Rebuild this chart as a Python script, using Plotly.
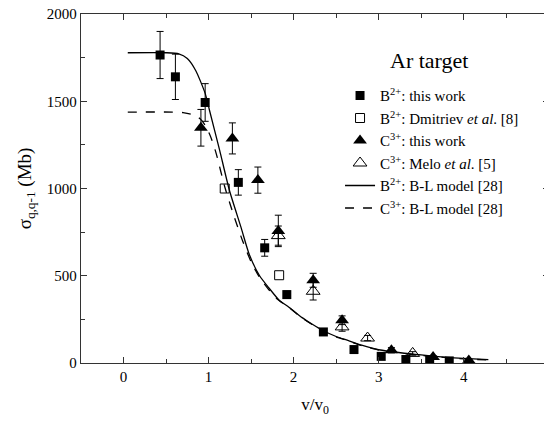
import plotly.graph_objects as go

# B2+ this work
b_x = [0.43, 0.61, 0.96, 1.35, 1.66, 1.92, 2.35, 2.71, 3.03, 3.32, 3.60, 3.83]
b_y = [1765, 1640, 1493, 1035, 660, 392, 178, 77, 38, 20, 15, 12]
b_err = [135, 130, 108, 73, 48, 20, 15, 10, 10, 8, 8, 6]

# B2+ Dmitriev et al. [8]
d_x = [1.19, 1.83]
d_y = [1000, 503]

# C3+ this work
c_x = [0.91, 1.28, 1.58, 1.82, 2.23, 2.57, 3.15, 3.64, 4.06]
c_y = [1348, 1287, 1048, 757, 474, 245, 73, 34, 15]
c_err = [105, 89, 75, 90, 40, 25, 15, 8, 5]

# C3+ Melo et al. [5]
m_x = [1.82, 2.23, 2.57, 2.87, 3.40]
m_y = [730, 411, 207, 143, 55]
m_err = [55, 50, 25, 15, 10]

# B-L model curves
bl_b_x = [0.05, 0.5, 0.65, 0.75, 0.85, 0.96, 1.01, 1.13, 1.245, 1.38, 1.48, 1.6, 1.71, 1.83, 1.945, 2.1, 2.22, 2.35, 2.5, 2.645, 2.8, 3.0, 3.3, 3.5, 3.77, 4.0, 4.29]
bl_b_y = [1778, 1778, 1772, 1745, 1675, 1545, 1450, 1220, 990, 780, 620, 500, 430, 360, 320, 260, 222, 185, 152, 128, 102, 76, 56, 46, 34, 26, 19]

bl_c_x = [0.05, 0.6, 0.7, 0.8, 0.9, 0.97, 1.03, 1.09, 1.19, 1.3, 1.4, 1.5, 1.6, 1.7, 1.8, 1.945, 2.1, 2.22, 2.35, 2.5, 2.645, 2.8, 3.0, 3.3, 3.5, 3.77, 4.0, 4.29]
bl_c_y = [1438, 1438, 1435, 1425, 1400, 1355, 1290, 1200, 1010, 840, 700, 580, 490, 425, 370, 318, 258, 220, 183, 150, 126, 100, 74, 54, 44, 32, 24, 17]

FONT = "Times New Roman"

fig = go.Figure()
fig.add_trace(go.Scatter(x=b_x, y=b_y, mode="markers", name="B<sup>2+</sup>: this work",
                         marker=dict(symbol="square", size=9, color="black"),
                         error_y=dict(type="data", array=b_err, color="black", thickness=1, width=3.5)))
fig.add_trace(go.Scatter(x=d_x, y=d_y, mode="markers", name="B<sup>2+</sup>: Dmitriev <i>et al</i>. [8]",
                         marker=dict(symbol="square-open", size=9, color="black", line=dict(width=1))))
fig.add_trace(go.Scatter(x=c_x, y=c_y, mode="markers", name="C<sup>3+</sup>: this work",
                         marker=dict(symbol="triangle-up", size=12, color="black"),
                         error_y=dict(type="data", array=c_err, color="black", thickness=1, width=3.5)))
fig.add_trace(go.Scatter(x=m_x, y=m_y, mode="markers", name="C<sup>3+</sup>: Melo <i>et al</i>. [5]",
                         marker=dict(symbol="triangle-up-open", size=12, color="black", line=dict(width=1)),
                         error_y=dict(type="data", array=m_err, color="black", thickness=1, width=3.5)))
fig.add_trace(go.Scatter(x=bl_b_x, y=bl_b_y, mode="lines", name="B<sup>2+</sup>: B-L model [28]",
                         line=dict(color="black", width=1.3, shape="spline", smoothing=0.6)))
fig.add_trace(go.Scatter(x=bl_c_x, y=bl_c_y, mode="lines", name="C<sup>3+</sup>: B-L model [28]",
                         line=dict(color="black", width=1.3, dash="dash", shape="spline", smoothing=0.6)))

axis_common = dict(showline=True, linecolor="#333", linewidth=1.3, mirror="allticks",
                   ticks="inside", ticklen=6, tickcolor="#333", tickwidth=1.2,
                   showgrid=False, zeroline=False, automargin=False,
                   ticklabeloverflow="allow",
                   tickfont=dict(family=FONT, size=15, color="black"))

fig.update_layout(
    width=552, height=409,
    margin=dict(l=73, r=11, t=6, b=54),
    plot_bgcolor="white", paper_bgcolor="white",
    font=dict(family=FONT, color="black"),
    xaxis=dict(range=[-0.5, 5.003], dtick=1, tick0=0,
               minor=dict(dtick=0.5, ticks="inside", ticklen=4, tickcolor="#333"),
               title=dict(text="v/v<sub>0</sub>", font=dict(family=FONT, size=17), standoff=14),
               **axis_common),
    yaxis=dict(range=[0, 2000], dtick=500,
               minor=dict(dtick=250, ticks="inside", ticklen=4, tickcolor="#333"),
               title=dict(text="σ<sub>q,q-1</sub> (Mb)", font=dict(family=FONT, size=19), standoff=10),
               **axis_common),
    legend=dict(x=0.5535, y=0.813, xanchor="left", yanchor="top",
                bgcolor="rgba(0,0,0,0)", font=dict(family=FONT, size=15, color="black"),
                itemwidth=30, tracegroupgap=0),
    annotations=[dict(text="Ar target", x=0.744, y=0.868, xref="paper", yref="paper",
                      xanchor="center", yanchor="middle",
                      showarrow=False, font=dict(family=FONT, size=22, color="black"))],
)

fig.write_html("out.html")
